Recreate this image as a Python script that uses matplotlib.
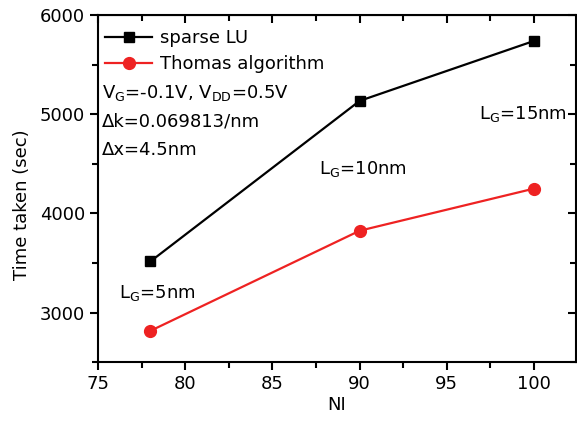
import matplotlib
matplotlib.use("Agg")
import matplotlib.pyplot as plt
from matplotlib.ticker import MultipleLocator

plt.rcParams["font.family"] = ["DejaVu Sans"]
plt.rcParams["mathtext.fontset"] = "dejavusans"

# data
ni = [78, 90, 100]
sparse_lu = [3515, 5135, 5740]
thomas = [2815, 3825, 4250]
gate_labels = [r"L$_\mathrm{G}$=5nm", r"L$_\mathrm{G}$=10nm", r"L$_\mathrm{G}$=15nm"]
info_lines = [r"V$_\mathrm{G}$=-0.1V, V$_\mathrm{DD}$=0.5V", "\u0394k=0.069813/nm", "\u0394x=4.5nm"]

FS = 13

fig = plt.figure(figsize=(5.77, 4.21), dpi=100)
ax = fig.add_axes([0.170, 0.140, 0.828, 0.824])

ax.plot(ni, sparse_lu, color="black", lw=1.6, marker="s", ms=7, label="sparse LU")
ax.plot(ni, thomas, color="#ee2222", lw=1.6, marker="o", ms=8.5, label="Thomas algorithm")

ax.set_xlim(75, 102.4)
ax.set_ylim(2500, 6000)
ax.xaxis.set_major_locator(MultipleLocator(5))
ax.xaxis.set_minor_locator(MultipleLocator(2.5))
ax.yaxis.set_major_locator(MultipleLocator(1000))
ax.yaxis.set_minor_locator(MultipleLocator(500))
ax.tick_params(which="both", direction="out", width=1.5, labelsize=FS)
ax.tick_params(which="major", length=6)
ax.tick_params(which="minor", length=4)
for s in ax.spines.values():
    s.set_linewidth(1.5)

# inward mirror ticks on top and right
for side in ("top", "right"):
    sec = ax.secondary_xaxis("top") if side == "top" else ax.secondary_yaxis("right")
    axis = sec.xaxis if side == "top" else sec.yaxis
    axis.set_major_locator(MultipleLocator(5 if side == "top" else 1000))
    axis.set_minor_locator(MultipleLocator(2.5 if side == "top" else 500))
    sec.tick_params(which="both", direction="in", width=1.5, labelsize=0,
                    labeltop=False, labelright=False)
    sec.tick_params(which="major", length=6)
    sec.tick_params(which="minor", length=4)

ax.set_xlabel("NI", fontsize=FS, labelpad=2)
ax.set_ylabel("Time taken (sec)", fontsize=FS)
ax.yaxis.set_label_coords(-0.14, 0.455)

leg = ax.legend(loc="upper left", frameon=False, fontsize=FS, handlelength=2.6,
                borderaxespad=0.0, handletextpad=0.45, labelspacing=0.45,
                bbox_to_anchor=(0.0, 0.98))

for i, line in enumerate(info_lines):
    ax.text(0.008, 0.775 - i * 0.082, line, transform=ax.transAxes, fontsize=FS,
            va="center", ha="left")

gate_pos = [(78.4, 3200), (90.2, 4450), (99.35, 5000)]
for (x, y), lab in zip(gate_pos, gate_labels):
    ax.text(x, y, lab, fontsize=FS, ha="center", va="center")

fig.savefig("out.png", dpi=100)
